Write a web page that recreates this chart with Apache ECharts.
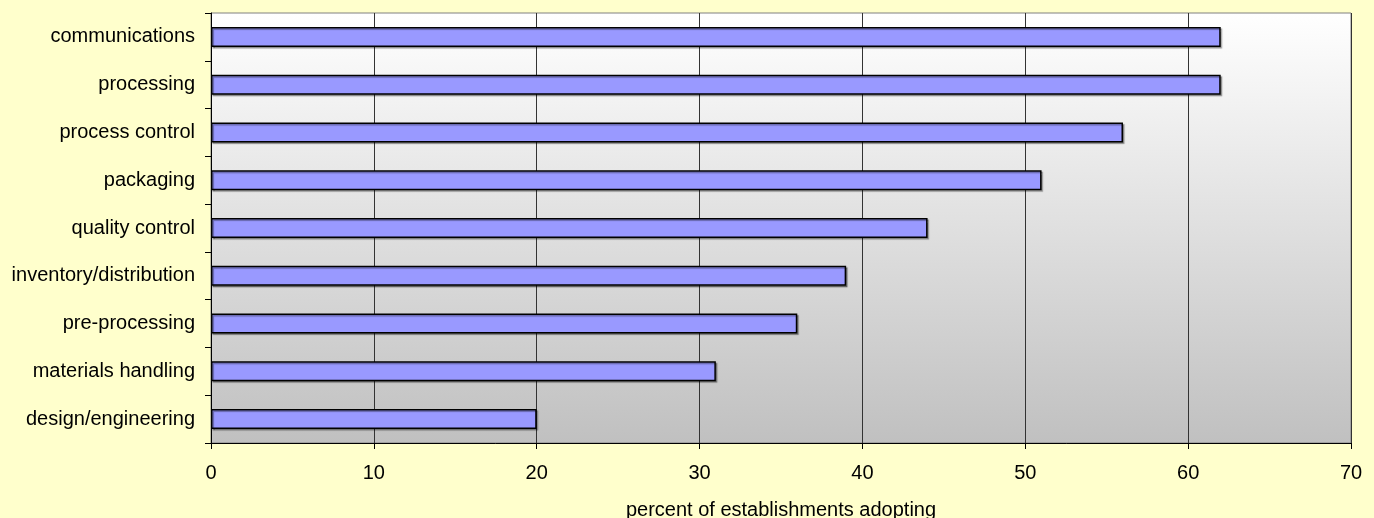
<!DOCTYPE html>
<html>
<head>
<meta charset="utf-8">
<title>Technology adoption</title>
<script src="https://cdn.jsdelivr.net/npm/echarts@6/dist/echarts.min.js"></script>
<style>
  html, body { margin: 0; padding: 0; background: #FFFFCC; }
  #chart { width: 1374px; height: 518px; }
</style>
</head>
<body>
<div id="chart"></div>
<script>
// categories listed top to bottom
const categories = [
  'communications',
  'processing',
  'process control',
  'packaging',
  'quality control',
  'inventory/distribution',
  'pre-processing',
  'materials handling',
  'design/engineering'
];
const adoptionPct = [62, 62, 56, 51, 44, 39, 36, 31, 20];
const xTicks = { min: 0, max: 70, interval: 10 };

const chart = echarts.init(document.getElementById('chart'));

const option = {
  backgroundColor: '#FFFFCC',
  animation: false,
  textStyle: { fontFamily: 'Liberation Sans, Arial, sans-serif' },
  grid: {
    left: 211,
    right: 23,
    top: 13,
    bottom: 75,
    containLabel: false,
    outerBoundsMode: 'none',
    show: true,
    borderColor: '#808080',
    borderWidth: 1,
    backgroundColor: new echarts.graphic.LinearGradient(0, 0, 0, 1, [
      { offset: 0, color: '#FFFFFF' },
      { offset: 1, color: '#C0C0C0' }
    ])
  },
  xAxis: {
    type: 'value',
    min: xTicks.min,
    max: xTicks.max,
    interval: xTicks.interval,
    name: 'percent of establishments adopting',
    nameLocation: 'middle',
    nameGap: 57,
    nameTextStyle: { fontSize: 20, color: '#000' },
    axisLine: { show: true, lineStyle: { color: '#000', width: 1 } },
    axisTick: { show: true, length: 6, lineStyle: { color: '#000' } },
    axisLabel: { fontSize: 20, color: '#000', margin: 20 },
    splitLine: { show: true, lineStyle: { color: '#333', width: 1 } }
  },
  yAxis: {
    type: 'category',
    data: categories,
    inverse: true,
    axisLine: { show: true, lineStyle: { color: '#000', width: 1 } },
    axisTick: { show: true, length: 6, alignWithLabel: false, lineStyle: { color: '#000' } },
    axisLabel: { fontSize: 20, color: '#000', margin: 16 },
    splitLine: { show: false }
  },
  series: [{
    type: 'bar',
    data: adoptionPct,
    barWidth: 20,
    itemStyle: {
      color: '#9999FF',
      borderColor: '#000',
      borderWidth: 1.5,
      shadowColor: 'rgba(0,0,0,0.35)',
      shadowOffsetX: 1.5,
      shadowOffsetY: 1.5,
      shadowBlur: 1
    }
  }]
};

chart.setOption(option);
</script>
</body>
</html>
